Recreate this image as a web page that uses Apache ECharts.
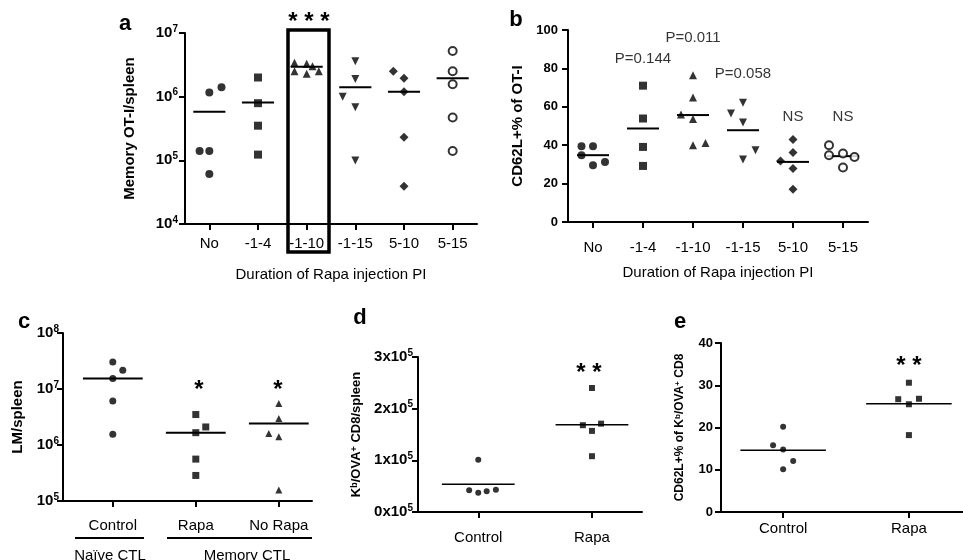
<!DOCTYPE html>
<html>
<head>
<meta charset="utf-8">
<script src="https://cdn.jsdelivr.net/npm/echarts@6/dist/echarts.min.js"></script>
<style>
  html, body { margin: 0; padding: 0; background: #fff; }
  #chart { width: 963px; height: 560px; }
</style>
</head>
<body>
<div id="chart"></div>
<script>
// panel a / b groups
const groupsAB = ['No', '-1-4', '-1-10', '-1-15', '5-10', '5-15']

// a: memory OT-I per spleen
const aValues = [
  [1.4e5, 1.4e5, 6.1e4, 1.16e6, 1.4e6],
  [2.0e6, 7.9e5, 3.5e5, 1.23e5],
  [3.4e6, 3.3e6, 3.0e6, 2.5e6, 2.3e6, 2.5e6],
  [3.6e6, 1.9e6, 1.0e6, 6.8e5, 9.9e4],
  [2.5e6, 1.95e6, 1.2e6, 2.3e5, 3.9e4],
  [5.2e6, 2.5e6, 1.57e6, 4.7e5, 1.4e5]
]
const aJitter = [
  [-0.2, 0, 0, 0, 0.25],
  [0, 0, 0, 0],
  [-0.25, 0, 0.12, -0.25, 0, 0.25],
  [0, 0, -0.26, 0, 0],
  [-0.22, 0, 0, 0, 0],
  [0, 0, 0, 0, 0]
]
const aMeans = [5.8e5, 8.1e5, 2.96e6, 1.4e6, 1.2e6, 1.95e6]

// b: CD62L+ % of OT-I
const bValues = [
  [39.5, 39.5, 34.8, 29.6, 31.3],
  [71, 53.9, 39.1, 29.2],
  [76.4, 64.9, 56, 53.6, 40, 41.2],
  [62.1, 56.5, 51.8, 37.4, 32.5],
  [43, 36.2, 31.8, 27.8, 17],
  [40, 34.8, 35.7, 33.9, 28.4]
]
const bJitter = [
  [-0.23, 0, -0.23, 0, 0.24],
  [0, 0, 0, 0],
  [0, 0, -0.24, 0, 0, 0.25],
  [0, -0.24, 0, 0.25, 0],
  [0, 0, -0.25, 0, 0],
  [-0.28, -0.28, 0, 0.23, 0]
]
const bMeans = [34.8, 48.7, 55.7, 47.8, 31.3, 34.3]
const bNotes = ['', 'P=0.144', 'P=0.011', 'P=0.058', 'NS', 'NS']

// c: LM per spleen
const cGroups = ['Control', 'Rapa', 'No Rapa']
const cValues = [
  [3.04e7, 2.16e7, 1.54e7, 6.1e6, 1.55e6],
  [3.5e6, 2.1e6, 1.66e6, 5.6e5, 2.86e5],
  [5.5e6, 2.98e6, 1.61e6, 1.4e6, 1.57e5]
]
const cJitter = [[0, 0.12, 0, 0, 0], [0, 0.12, 0, 0, 0], [0, 0, -0.12, 0, 0]]
const cMeans = [1.54e7, 1.66e6, 2.43e6]

// d: Kb/OVA+ CD8 per spleen
const deGroups = ['Control', 'Rapa']
const dValues = [
  [1.01e5, 0.42e5, 0.375e5, 0.40e5, 0.43e5],
  [2.40e5, 1.68e5, 1.71e5, 1.57e5, 1.08e5]
]
const dJitter = [[0, -0.08, 0, 0.074, 0.155], [0, -0.08, 0.08, 0, 0]]
const dMeans = [0.536e5, 1.69e5]

// e: CD62L+ % of Kb/OVA+ CD8
const eValues = [
  [20.2, 15.8, 14.8, 12.1, 10.1],
  [30.6, 26.7, 26.8, 25.5, 18.2]
]
const eJitter = [[0, -0.08, 0, 0.08, 0], [0, -0.085, 0.08, 0, 0]]
const eMeans = [14.6, 25.6]

const FONT = 'Liberation Sans, Arial, sans-serif'
const symbolsAB = ['circle', 'rect', 'triangle', 'triangle', 'diamond', 'emptyCircle']

function dots (grid, values, jitter, symbols, size) {
  return values.map((vals, g) => ({
    type: 'scatter',
    xAxisIndex: grid,
    yAxisIndex: grid,
    symbol: symbols[g],
    symbolRotate: (symbols === symbolsAB && g === 3) ? 180 : 0,
    symbolSize: symbols[g] === 'diamond' ? size + 1 : size,
    itemStyle: symbols[g] === 'emptyCircle'
      ? { color: '#000', borderColor: '#000', borderWidth: 1.8 }
      : { color: '#000' },
    z: 3,
    silent: true,
    data: vals.map((v, j) => [g + jitter[g][j], v])
  }))
}

function means (grid, vals, half, width) {
  return {
    type: 'custom',
    xAxisIndex: grid,
    yAxisIndex: grid,
    z: 2,
    silent: true,
    data: vals.map((m, g) => [g, m]),
    renderItem: (params, api) => {
      const p1 = api.coord([api.value(0) - half, api.value(1)])
      const p2 = api.coord([api.value(0) + half, api.value(1)])
      return {
        type: 'line',
        shape: { x1: p1[0], y1: p1[1], x2: p2[0], y2: p2[1] },
        style: { stroke: '#000', lineWidth: width }
      }
    }
  }
}

const lineStyle = { color: '#000', width: 2 }

function xAxis (grid, cats, min, max, margin, name) {
  const ticks = cats.map((c, k) => k)
  return {
    gridIndex: grid,
    type: 'value',
    min: min,
    max: max,
    name: name || '',
    nameLocation: 'middle',
    nameGap: 43,
    nameTextStyle: { color: '#000', fontSize: 15, fontFamily: FONT },
    axisLine: { show: true, onZero: false, lineStyle },
    axisTick: { show: true, length: 6, lineStyle, customValues: ticks },
    axisLabel: {
      customValues: ticks,
      formatter: v => cats[Math.round(v)],
      color: '#000', fontSize: 15, fontFamily: FONT, margin: margin
    },
    splitLine: { show: false }
  }
}

const rich = {
  n: { fontSize: 15, fontWeight: 'bold', fontFamily: FONT, color: '#000', lineHeight: 18 },
  s: { fontSize: 10, fontWeight: 'bold', fontFamily: FONT, color: '#000', verticalAlign: 'top', lineHeight: 11 }
}

function yAxis (grid, extra, name, nameGap, nameSize) {
  return Object.assign({
    gridIndex: grid,
    name: name,
    nameLocation: 'middle',
    nameGap: nameGap,
    nameTextStyle: { color: '#000', fontSize: nameSize, fontWeight: 'bold', fontFamily: FONT, rich: {
      t: { fontSize: nameSize, fontWeight: 'bold', fontFamily: FONT, color: '#000' },
      s: { fontSize: nameSize - 4, fontWeight: 'bold', fontFamily: FONT, color: '#000', verticalAlign: 'top' }
    } },
    axisLine: { show: true, onZero: false, lineStyle },
    axisTick: { show: true, length: 6, lineStyle },
    splitLine: { show: false }
  }, extra)
}

const logLabel = margin => ({
  formatter: v => '{n|10}{s|' + Math.round(Math.log10(v)) + '}',
  rich, color: '#000', margin: margin
})

function txt (text, x, y, font, align) {
  return {
    type: 'text', x: x, y: y, silent: true,
    style: {
      text: text, font: font + ' ' + FONT, fill: '#000',
      align: align || 'center', verticalAlign: 'middle',
      textAlign: align || 'center', textVerticalAlign: 'middle'
    }
  }
}

function seg (x1, y1, x2, y2, w) {
  return { type: 'line', silent: true, shape: { x1, y1, x2, y2 }, style: { stroke: '#000', lineWidth: w } }
}

// note positions over panel b groups, in data units
const bNoteY = [0, 85, 96, 77, 55, 55]

const myChart = echarts.init(document.getElementById('chart'))
myChart.setOption({
  animation: false,
  textStyle: { fontFamily: FONT },
  grid: [
    { left: 185, top: 33, width: 292, height: 191 },
    { left: 568, top: 30, width: 300, height: 192 },
    { left: 63, top: 333, width: 249, height: 168 },
    { left: 418, top: 357, width: 224, height: 155 },
    { left: 721, top: 343, width: 242, height: 169 }
  ],
  xAxis: [
    xAxis(0, groupsAB, -0.5, 5.5, 12, 'Duration of Rapa injection PI'),
    xAxis(1, groupsAB, -0.5, 5.5, 18, 'Duration of Rapa injection PI'),
    xAxis(2, cGroups, -0.6, 2.4, 17),
    xAxis(3, deGroups, -0.53, 1.44, 18),
    xAxis(4, deGroups, -0.494, 1.43, 9)
  ],
  yAxis: [
    yAxis(0, { type: 'log', logBase: 10, min: 1e4, max: 1e7, axisLabel: logLabel(7) }, 'Memory OT-I/spleen', 48, 15),
    yAxis(1, { type: 'value', min: 0, max: 100, interval: 20,
      axisLabel: { color: '#000', fontSize: 13, fontWeight: 'bold', fontFamily: FONT, margin: 10 } }, 'CD62L+% of OT-I', 43, 15),
    yAxis(2, { type: 'log', logBase: 10, min: 1e5, max: 1e8, axisLabel: logLabel(4) }, 'LM/spleen', 38, 15),
    yAxis(3, { type: 'value', min: 0, max: 3e5, interval: 1e5,
      axisLabel: { formatter: v => '{n|' + Math.round(v / 1e5) + 'x10}{s|5}', rich, margin: 5 } },
      '{t|K}{s|b}{t|/OVA}{s|+}{t| CD8/spleen}', 55, 13),
    yAxis(4, { type: 'value', min: 0, max: 40, interval: 10,
      axisLabel: { color: '#000', fontSize: 13, fontWeight: 'bold', fontFamily: FONT, margin: 8 } },
      '{t|CD62L+% of K}{s|b}{t|/OVA}{s|+}{t| CD8}', 35, 12)
  ],
  series: [
    ...dots(0, aValues, aJitter, symbolsAB, 8),
    means(0, aMeans, 0.33, 2),
    ...dots(1, bValues, bJitter, symbolsAB, 8),
    means(1, bMeans, 0.32, 2),
    {
      type: 'scatter', xAxisIndex: 1, yAxisIndex: 1, symbolSize: 0, silent: true,
      data: bNotes.map((t, g) => ({ value: [g, bNoteY[g]], name: t })),
      label: { show: true, position: 'inside', formatter: p => p.name, color: '#000', fontSize: 15, fontFamily: FONT }
    },
    ...dots(2, cValues, cJitter, ['circle', 'rect', 'triangle'], 7),
    means(2, cMeans, 0.36, 2),
    ...dots(3, dValues, dJitter, ['circle', 'rect'], 6),
    means(3, dMeans, 0.32, 1.5),
    ...dots(4, eValues, eJitter, ['circle', 'rect'], 6),
    means(4, eMeans, 0.34, 1.5)
  ],
  graphic: [
    txt('a', 125, 24, 'bold 22px'),
    txt('b', 516, 20, 'bold 22px'),
    txt('c', 24, 322, 'bold 22px'),
    txt('d', 360, 318, 'bold 22px'),
    txt('e', 680, 322, 'bold 22px'),
    txt('* * *', 309, 22, 'bold 24px'),
    { type: 'rect', silent: true, shape: { x: 288, y: 30, width: 41, height: 222 },
      style: { fill: 'none', stroke: '#000', lineWidth: 3.5 } },
    txt('*', 199, 390, 'bold 24px'),
    txt('*', 278, 390, 'bold 24px'),
    txt('* *', 589, 373, 'bold 24px'),
    txt('* *', 909, 366, 'bold 24px'),
    seg(75, 538, 144, 538, 2),
    seg(167, 538, 312, 538, 2),
    txt('Naïve CTL', 110, 556, '15px'),
    txt('Memory CTL', 247, 556, '15px')
  ]
})
</script>
</body>
</html>
